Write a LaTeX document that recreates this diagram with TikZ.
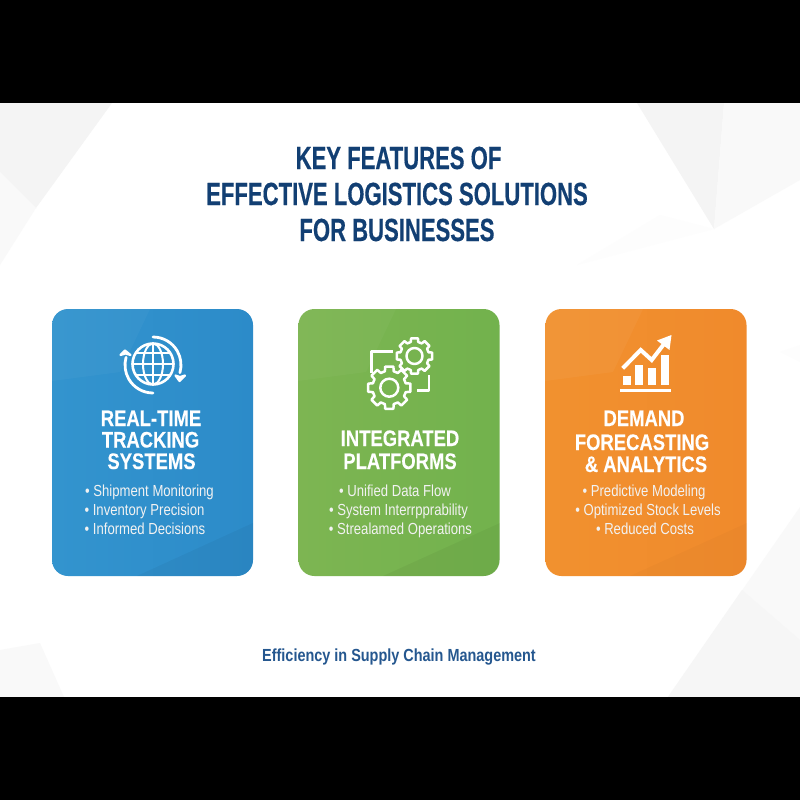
\documentclass[tikz,border=0pt]{standalone}
\usepackage{fontspec}
\usetikzlibrary{calc}
\setmainfont{Liberation Sans}
\newfontfamily\titlefont[FakeStretch=0.69,FakeBold=0.35]{Liberation Sans}
\newfontfamily\headfont[FakeStretch=0.82,FakeBold=0.2]{Liberation Sans}
\newfontfamily\itemfont[FakeStretch=0.82]{Liberation Sans}
\newfontfamily\footfont[FakeStretch=0.825]{Liberation Sans}
\definecolor{navy}{HTML}{123F73}
\definecolor{footblue}{HTML}{25578F}
\definecolor{facetA}{HTML}{F4F4F4}
\definecolor{facetB}{HTML}{F9F9F9}
\definecolor{facetC}{HTML}{FDFDFD}
\definecolor{facetD}{HTML}{F6F6F6}
\definecolor{blueA}{HTML}{3394CE}
\definecolor{blueB}{HTML}{2C8BC9}
\definecolor{greenA}{HTML}{7DB552}
\definecolor{greenB}{HTML}{72B24D}
\definecolor{orangeA}{HTML}{F1912F}
\definecolor{orangeB}{HTML}{F08A2C}
\tikzset{
  x=1pt,y=-1pt,
  titletext/.style={anchor=base,inner sep=0,text=navy,font={\titlefont\bfseries\fontsize{32}{32}\selectfont}},
  headtext/.style={anchor=base,inner sep=0,text=white,font={\headfont\bfseries\fontsize{22.5}{22.5}\selectfont}},
  itemtext/.style={anchor=base,inner sep=0,text=white!95!black,font={\itemfont\fontsize{16}{16}\selectfont}},
  foottext/.style={anchor=base,inner sep=0,text=footblue,font={\footfont\bfseries\fontsize{17.5}{17.5}\selectfont}},
  card/.style={minimum width=201pt,minimum height=267pt,inner sep=0,rounded corners=16pt,shading=axis,shading angle=135},
  iconline/.style={draw=white,line width=#1,line cap=round,line join=round},
  iconline/.default=2pt
}
\newcommand{\gearicon}[4]{%
  \draw[iconline=2.5pt] ($(#1,#2)+(-11:#3)$) \foreach \a in {0,45,...,315} {
     -- ($(#1,#2)+(\a-11:#3)$) -- ($(#1,#2)+(\a+11:#3)$) -- ($(#1,#2)+(\a+15:#4)$) -- ($(#1,#2)+(\a+30:#4)$)
  } -- cycle;
}
\newcommand{\facets}[4]{% x0, x1, light style, dark style
  \begin{scope}
    \clip[rounded corners=16pt] (#1,309) rectangle (#2,576);
    \fill[#3] (#1,309) -- (#1+98,309) -- (#1+68,372) -- (#1,381) -- cycle;
    \fill[#4] (#1+85,576) -- (#2,523) -- (#2,576) -- cycle;
  \end{scope}
}
\begin{document}
\begin{tikzpicture}
\useasboundingbox (0,0) rectangle (800,800);
\fill[white] (0,0) rectangle (800,800);
% background facets
\fill[facetA] (0,103) -- (112,103) -- (36,208) -- (0,172) -- cycle;
\fill[facetB] (0,172) -- (36,208) -- (0,265) -- cycle;
\fill[facetA] (637,103) -- (724,103) -- (714,229) -- cycle;
\fill[facetB] (724,103) -- (800,103) -- (800,180) -- (714,229) -- cycle;
\fill[facetC] (577,265) -- (714,229) -- (660,215) -- cycle;
\fill[facetB] (668,697) -- (800,507) -- (800,697) -- cycle;
\fill[facetD] (668,697) -- (742,590) -- (800,640) -- (800,697) -- cycle;
\fill[facetB] (0,650) -- (40,643) -- (64,697) -- (0,697) -- cycle;
\fill[facetC] (780,352) -- (800,345) -- (800,362) -- cycle;
% black bands
\fill[black] (0,0) rectangle (800,103);
\fill[black] (0,697) rectangle (800,800);
% title
\node[titletext] (t1) at (398.5,169) {KEY FEATURES OF};
\node[titletext] (t2) at (397,205) {EFFECTIVE LOGISTICS SOLUTIONS};
\node[titletext] (t3) at (397,241) {FOR BUSINESSES};
% cards
\node[card,left color=blueA,right color=blueB] (blueCard) at (152.5,442.5) {};
\node[card,left color=greenA,right color=greenB] (greenCard) at (399,442.5) {};
\node[card,left color=orangeA,right color=orangeB] (orangeCard) at (646,442.5) {};
\facets{52}{253}{white,opacity=0.03}{black,opacity=0.04}
\facets{298}{500}{white,opacity=0.03}{black,opacity=0.04}
\facets{545}{747}{white,opacity=0.04}{black,opacity=0.02}
% globe icon
\draw[iconline=2.6pt] (153,364) circle[radius=20.5];
\draw[iconline=2pt] (153,364) ellipse[x radius=10,y radius=20.5];
\draw[iconline=2pt] (153,343.5) -- (153,384.5);
\draw[iconline=2pt] (132.5,364) -- (173.5,364);
\draw[iconline=2pt] (136,353) -- (170,353);
\draw[iconline=2pt] (136,375) -- (170,375);
\draw[iconline=2.8pt] (153,337) arc[start angle=-90,end angle=16,radius=28];
\draw[iconline=2.2pt,fill=white] (175.5,375.5) -- (179.5,381) -- (185,375.5) -- (180,377) -- cycle;
\draw[iconline=2.8pt] (153,393) arc[start angle=90,end angle=196,radius=28];
\draw[iconline=2.2pt,fill=white] (120.5,355) -- (125,350.5) -- (130.5,355) -- (125.5,353.5) -- cycle;
% gear icon
\gearicon{414.5}{356}{18}{14.5}
\draw[iconline=2.5pt] (414.5,356) circle[radius=8];
\gearicon{389.3}{387.7}{21.5}{17}
\draw[iconline=2.5pt] (389.3,387.7) circle[radius=9];
\draw[iconline=2.5pt,line cap=butt] (393,351.7) -- (371.7,351.7) -- (371.7,372.7);
\draw[iconline=2.5pt,line cap=butt] (429,375) -- (429,390.7) -- (416.7,390.7);
% chart icon
\fill[white] (622.7,376) rectangle (630.7,385);
\fill[white] (635.3,365) rectangle (643.3,385);
\fill[white] (648.3,367.7) rectangle (656.3,385);
\fill[white] (661.3,355) rectangle (669.3,385);
\fill[white] (620,388.5) rectangle (671.3,391.5);
\draw[iconline=4pt,line cap=butt,line join=miter] (622.7,368.3) -- (640.7,350) -- (651.7,360) -- (664,344);
\fill[white] (671.5,335) -- (669.5,350) -- (657,340.5) -- cycle;
% card headings
\node[headtext] (h11) at (151,426) {REAL-TIME};
\node[headtext] (h12) at (150.5,447.5) {TRACKING};
\node[headtext] (h13) at (151.5,469) {SYSTEMS};
\node[headtext] (h21) at (400,446) {INTEGRATED};
\node[headtext] (h22) at (400,469) {PLATFORMS};
\node[headtext] (h31) at (644,426) {DEMAND};
\node[headtext] (h32) at (642,450) {FORECASTING};
\node[headtext] (h33) at (646,472) {\& ANALYTICS};
% bullet lists
\node[itemtext] (b11) at (149.5,496.5) {• Shipment Monitoring};
\node[itemtext] (b12) at (144.5,515.5) {• Inventory Precision};
\node[itemtext] (b13) at (145,534.5) {• Informed Decisions};
\node[itemtext] (b21) at (395,496.5) {• Unified Data Flow};
\node[itemtext] (b22) at (398.5,515.5) {• System Interrpprability};
\node[itemtext] (b23) at (400.5,534.5) {• Strealamed Operations};
\node[itemtext] (b31) at (644,496.5) {• Predictive Modeling};
\node[itemtext] (b32) at (648,515.5) {• Optimized Stock Levels};
\node[itemtext] (b33) at (645,534.5) {• Reduced Costs};
% footer
\node[foottext] (foot) at (399,661) {Efficiency in Supply Chain Management};
\end{tikzpicture}
\end{document}
